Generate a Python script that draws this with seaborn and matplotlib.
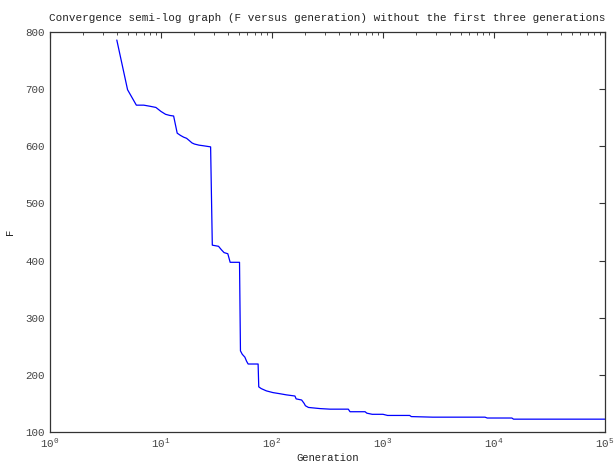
import matplotlib
matplotlib.use("Agg")
import matplotlib.pyplot as plt
import matplotlib.ticker as mticker
import pandas as pd
import seaborn as sns

# valeurs
generation = [4, 5, 6, 7, 8, 9, 10, 11, 12, 13, 14, 15, 16, 17, 18, 19, 20, 22, 24, 28,
              29, 33, 35, 37, 40, 42, 51, 52, 54, 57, 59, 61, 75, 76, 80, 89, 102, 118,
              135, 161, 165, 185, 195, 200, 213, 271, 333, 487, 505, 690, 715, 800, 1000,
              1100, 1740, 1800, 2800, 8300, 8700, 14500, 15000, 100000]
fitness = [786, 699, 672, 672, 670, 668, 661, 656, 654, 653, 623, 619, 616, 614, 610, 606,
           604, 602, 601, 599, 427, 425, 419, 414, 412, 397, 397, 242, 236, 231, 224, 219,
           219, 179, 176, 172, 169, 167, 165, 163, 158, 156, 150, 146, 143, 141, 140, 140,
           135.5, 135.5, 133, 131, 131, 129, 129, 127, 126, 126, 124.5, 124.5, 122.5, 122.5]

title = "Convergence semi-log graph (F versus generation) without the first three generations"

sns.set_theme(style="white")
plt.rcParams['font.family'] = ['Liberation Mono', 'DejaVu Sans Mono']
plt.rcParams['mathtext.default'] = 'regular'

df = pd.DataFrame({"Generation": generation, "F": fitness})

fig = plt.figure(figsize=(6.14, 4.62), dpi=100)
ax = fig.add_axes([0.0814, 0.0649, 0.9039, 0.8658])

sns.lineplot(data=df, x="Generation", y="F", estimator=None, color="#0000ff",
             linewidth=0.9, ax=ax)

ax.set_xscale("log")
ax.set_xlim(1, 1e5)
ax.set_ylim(100, 800)
ax.set_yticks(range(100, 801, 100))
ax.xaxis.set_major_locator(mticker.LogLocator(base=10, numticks=10))
ax.xaxis.set_minor_locator(mticker.LogLocator(base=10, subs=range(2, 10), numticks=20))

ax.tick_params(which="both", direction="in", top=True, right=True, colors="#333333",
               labelsize=7.8, labelcolor="#444444")
ax.tick_params(which="major", length=4, width=0.8)
ax.tick_params(which="minor", length=2, width=0.6, left=False, right=False)
for sp in ax.spines.values():
    sp.set_color("#333333")
    sp.set_linewidth(0.9)

ax.set_title(title, fontsize=7.9, color="#222222", pad=8)
ax.set_xlabel("Generation", fontsize=7.6, color="#222222", labelpad=2)
ax.set_ylabel("F", fontsize=7.6, color="#222222", labelpad=8)

fig.savefig("out.png", dpi=100)
